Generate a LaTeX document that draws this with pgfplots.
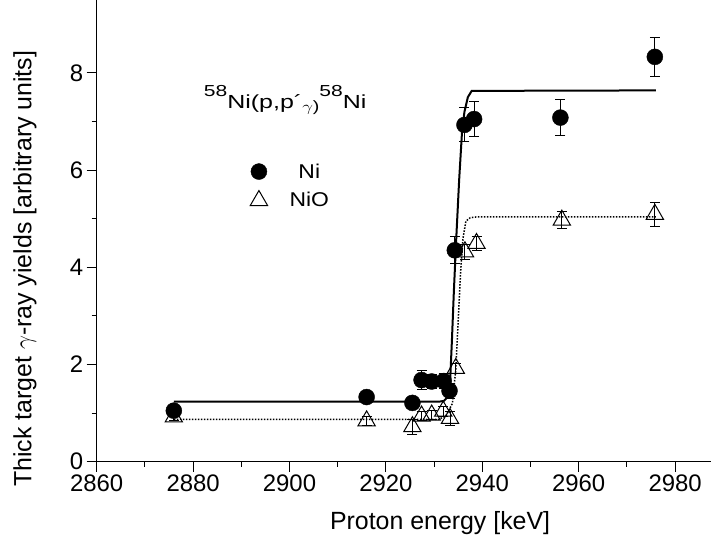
\documentclass[border=0pt]{standalone}
\usepackage{pgfplots}
\pgfplotsset{compat=1.18}
\usepackage{pgfplotstable}
\usepackage{fontspec}
\setmainfont{Liberation Sans}

\pgfplotstableread{
x y e
2876 1.05 0.08
2916 1.33 0.08
2925.5 1.21 0.10
2927.4 1.68 0.20
2929.5 1.65 0.15
2932.0 1.66 0.15
2933.2 1.46 0.15
2934.3 4.35 0.28
2936.3 6.93 0.35
2938.3 7.05 0.36
2956.2 7.08 0.37
2975.8 8.33 0.40
}\nidata

\pgfplotstableread{
x y e
2876 0.92 0.08
2916 0.84 0.10
2925.5 0.72 0.15
2927.4 0.94 0.10
2929.5 0.96 0.10
2931.9 1.04 0.10
2933.3 0.89 0.15
2934.5 1.92 0.10
2936.4 4.32 0.15
2938.8 4.49 0.15
2956.5 4.97 0.18
2975.8 5.09 0.25
}\niodata

\pgfplotstableread{
x y
2876 1.235
2931 1.235
2932 1.25
2932.8 1.33
2933.3 1.6
2933.7 2.5
2934.1 3.5
2934.6 4.6
2935.2 5.8
2935.8 6.8
2936.3 7.2
2937 7.5
2937.8 7.63
2976 7.64
}\nifit

\pgfplotstableread{
x y
2876 0.87
2931 0.87
2932.5 0.95
2933.8 1.2
2934.5 1.9
2935 2.9
2935.5 3.9
2936 4.6
2936.6 4.95
2937.5 5.02
2939 5.04
2976 5.04
}\niofit

\begin{document}
\begin{tikzpicture}
\begin{axis}[
  scale only axis, width=614.3bp, height=461.7bp,
  xmin=2860, xmax=2987.45, ymin=0, ymax=9.5,
  axis x line*=bottom, axis y line*=left,
  x axis line style={-}, y axis line style={-},
  axis line style={line width=1.2bp},
  xtick={2860,2880,...,2980}, minor x tick num=1,
  ytick={0,2,4,6,8}, minor y tick num=1,
  tick align=outside, major tick length=10bp, minor tick length=5bp,
  tick style={line width=1.1bp, black},
  ticklabel style={font=\fontsize{24}{28}\selectfont},
  /pgf/number format/assume math mode=true,
  /pgf/number format/1000 sep={},
  xlabel={Proton energy [keV]},
  ylabel={Thick target $\gamma$-ray yields [arbitrary units]},
  label style={font=\fontsize{25}{29}\selectfont},
  xlabel style={at={(axis description cs:0.559,-0.133)}, anchor=center},
  ylabel style={at={(axis description cs:-0.1167,0.418)}, anchor=center},
  clip=false,
  legend style={at={(axis cs:2891.2,6.22)}, anchor=north west, draw=none, fill=none,
    font=\fontsize{20}{24}\selectfont, row sep=9bp},
  legend cell align=center,
]
\addplot[only marks, mark=*, mark size=8bp, black,
  error bars/.cd, y dir=both, y explicit,
  error bar style={line width=1bp, black},
  error mark options={rotate=90, mark size=5bp, line width=1bp}]
  table[x=x, y=y, y error=e] {\nidata};
\addlegendentry{\hspace*{20bp}\scalebox{1.15}[1]{Ni}}
\addplot[only marks, mark=triangle, mark size=10bp, black, mark options={fill=white, line width=1bp},
  error bars/.cd, y dir=both, y explicit,
  error bar style={line width=1bp, black},
  error mark options={rotate=90, mark size=5bp, line width=1bp}]
  table[x=x, y=y, y error=e] {\niodata};
\addlegendentry{\hspace*{20bp}\scalebox{1.15}[1]{NiO}}
\addplot[forget plot, no marks, black, line width=2bp] table[x=x, y=y] {\nifit};
\addplot[forget plot, no marks, black, line width=1.5bp, dash pattern=on 1.5bp off 1.5bp] table[x=x, y=y] {\niofit};
\node[anchor=base west, inner sep=0pt, font=\fontsize{19}{23}\selectfont] at (axis cs:2882.2,7.27)
  {\scalebox{1.32}[1]{\raisebox{11.5bp}{\fontsize{16}{19}\selectfont 58}Ni(p,p\textasciiacute\raisebox{-3bp}{\fontsize{15}{18}\selectfont$\gamma$)}\raisebox{11.5bp}{\fontsize{16}{19}\selectfont 58}Ni}};
\end{axis}
\pgfresetboundingbox
\path[use as bounding box] (-96.7bp,-88.3bp) rectangle (614.3bp,461.7bp);
\end{tikzpicture}
\end{document}
